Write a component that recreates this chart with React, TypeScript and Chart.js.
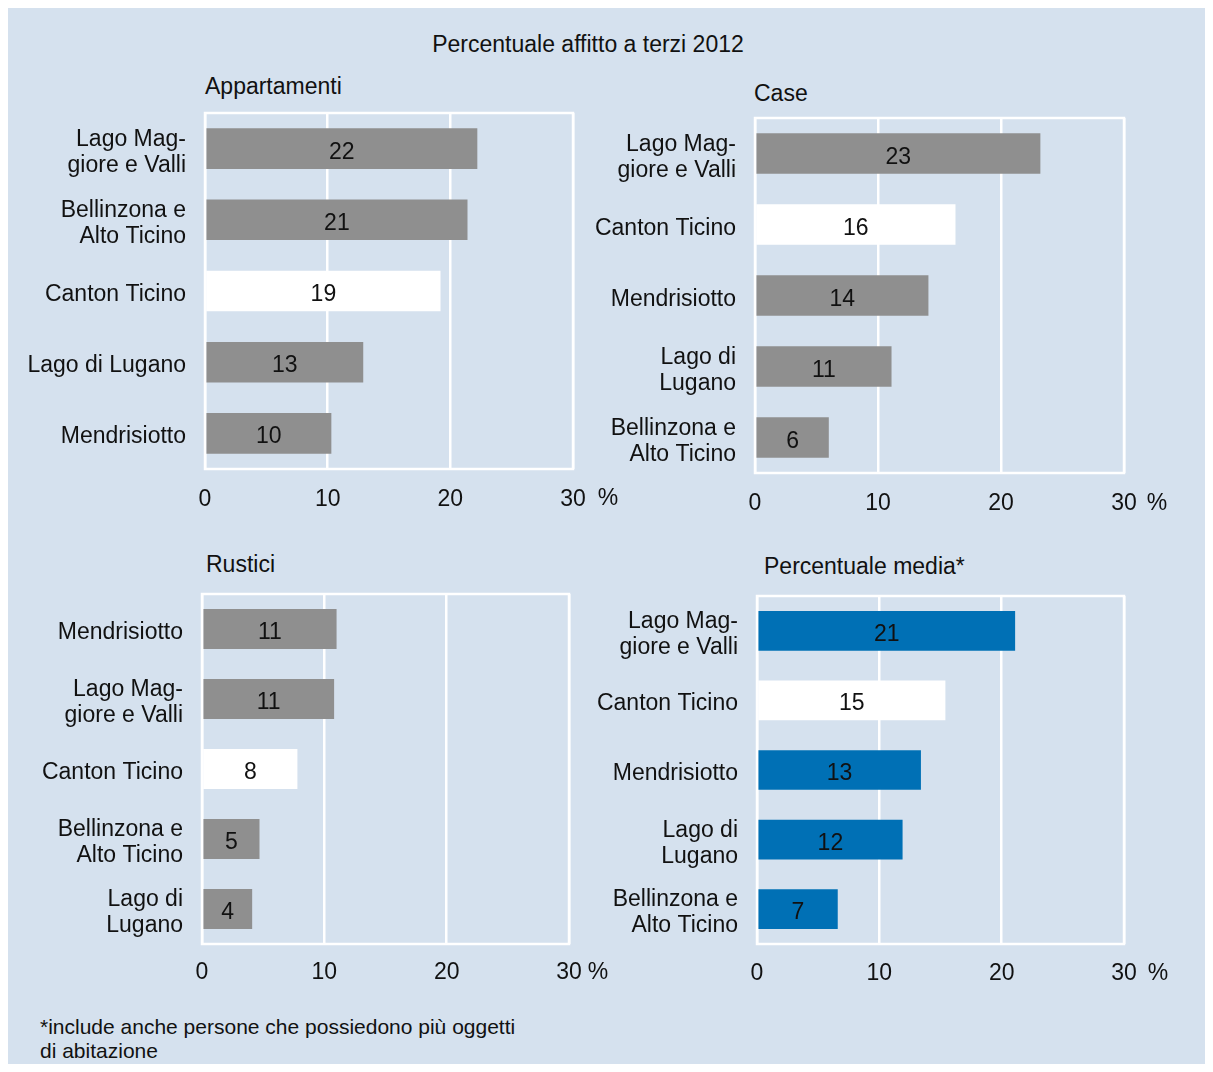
import React, { useEffect, useRef } from 'react';
import { Chart, registerables } from 'chart.js';

Chart.register(...registerables);

const FONT = '"Liberation Sans", Arial, Helvetica, sans-serif';
const BG = '#d5e1ee';
const GRAY = '#8f8f8f';
const BLUE = '#0070b5';
const WHITE = '#ffffff';
const TEXT = '#111111';
const HIGHLIGHT = 'Canton Ticino';

// ---- data ----
const mainTitle = 'Percentuale affitto a terzi 2012';
const footnote = ['*include anche persone che possiedono più oggetti', 'di abitazione'];
const xTickStep = 10;
const xMax = 30;
const unitLabel = '%';

const appTitle = 'Appartamenti';
const appCategories: (string | string[])[] = [
  ['Lago Mag-', 'giore e Valli'],
  ['Bellinzona e', 'Alto Ticino'],
  'Canton Ticino',
  'Lago di Lugano',
  'Mendrisiotto',
];
const appValues = [22.2, 21.4, 19.2, 12.9, 10.3];

const caseTitle = 'Case';
const caseCategories: (string | string[])[] = [
  ['Lago Mag-', 'giore e Valli'],
  'Canton Ticino',
  'Mendrisiotto',
  ['Lago di', 'Lugano'],
  ['Bellinzona e', 'Alto Ticino'],
];
const caseValues = [23.2, 16.3, 14.1, 11.1, 6.0];

const rusticiTitle = 'Rustici';
const rusticiCategories: (string | string[])[] = [
  'Mendrisiotto',
  ['Lago Mag-', 'giore e Valli'],
  'Canton Ticino',
  ['Bellinzona e', 'Alto Ticino'],
  ['Lago di', 'Lugano'],
];
const rusticiValues = [11.0, 10.8, 7.8, 4.7, 4.1];

const mediaTitle = 'Percentuale media*';
const mediaCategories: (string | string[])[] = [
  ['Lago Mag-', 'giore e Valli'],
  'Canton Ticino',
  'Mendrisiotto',
  ['Lago di', 'Lugano'],
  ['Bellinzona e', 'Alto Ticino'],
];
const mediaValues = [21.1, 15.4, 13.4, 11.9, 6.6];

const FS = 23;
const LINE = 26;

// ---- plugins ----
const framePlugin = {
  id: 'frame',
  afterDatasetsDraw(chart: any) {
    const { ctx, chartArea: a } = chart;
    ctx.save();
    ctx.strokeStyle = WHITE;
    ctx.lineWidth = 2.5;
    ctx.strokeRect(a.left, a.top, a.right - a.left, a.bottom - a.top);
    ctx.restore();
  },
};

const valuePlugin = {
  id: 'values',
  afterDatasetsDraw(chart: any) {
    const ctx = chart.ctx;
    const meta = chart.getDatasetMeta(0);
    const data = chart.data.datasets[0].data as number[];
    ctx.save();
    ctx.font = `${FS}px ${FONT}`;
    ctx.fillStyle = TEXT;
    ctx.textAlign = 'center';
    ctx.textBaseline = 'alphabetic';
    meta.data.forEach((bar: any, i: number) => {
      const { x, y, base } = bar.getProps(['x', 'y', 'base'], true);
      ctx.fillText(String(Math.round(data[i])), (x + base) / 2, y + 10);
    });
    ctx.restore();
  },
};

// category labels drawn at the category scale's own tick positions
const categoryLabelPlugin = {
  id: 'catLabels',
  afterDraw(chart: any) {
    const ctx = chart.ctx;
    const scale = chart.scales.y;
    const labels = chart.data.labels as (string | string[])[];
    ctx.save();
    ctx.font = `${FS}px ${FONT}`;
    ctx.fillStyle = TEXT;
    ctx.textAlign = 'right';
    ctx.textBaseline = 'alphabetic';
    const xRight = chart.chartArea.left - 19;
    labels.forEach((lab, i) => {
      const lines = Array.isArray(lab) ? lab : [lab];
      const py = scale.getPixelForTick(i);
      lines.forEach((line, k) => {
        const yy = py + 10 + (k - (lines.length - 1) / 2) * LINE;
        ctx.fillText(line, xRight, yy);
      });
    });
    ctx.restore();
  },
};

type Plot = { l: number; r: number; t: number; b: number };

const YW = 190;
const PT = 6;
const PR = 34;
const XH = 50;

function Panel({
  categories,
  values,
  color,
  plot,
  tickPad,
}: {
  categories: (string | string[])[];
  values: number[];
  color: string;
  plot: Plot;
  tickPad: number;
}) {
  const ref = useRef<HTMLCanvasElement>(null);
  const w = YW + (plot.r - plot.l) + PR;
  const h = PT + (plot.b - plot.t) + XH;
  useEffect(() => {
    const chart = new Chart(ref.current as HTMLCanvasElement, {
      type: 'bar',
      data: {
        labels: categories as any,
        datasets: [
          {
            data: values,
            backgroundColor: categories.map((c) => (c === HIGHLIGHT ? WHITE : color)),
            borderWidth: 0,
            barPercentage: 0.57,
            categoryPercentage: 1,
          },
        ],
      },
      options: {
        indexAxis: 'y',
        animation: false,
        responsive: false,
        devicePixelRatio: 1,
        layout: { padding: { left: 0, top: PT, right: PR, bottom: 0 } },
        plugins: {
          legend: { display: false },
          tooltip: { enabled: false },
          title: { display: false },
        },
        scales: {
          x: {
            min: 0,
            max: xMax,
            grid: { color: WHITE, lineWidth: 2.5, drawTicks: false },
            border: { display: false },
            ticks: {
              stepSize: xTickStep,
              padding: tickPad,
              color: TEXT,
              font: { family: FONT, size: FS },
              maxRotation: 0,
              autoSkip: false,
            },
            afterFit: (s: any) => {
              s.height = XH;
              s.paddingLeft = 0;
              s.paddingRight = 0;
            },
          },
          y: {
            grid: { display: false, drawTicks: false },
            border: { display: false },
            ticks: { display: false },
            afterFit: (s: any) => {
              s.width = YW;
              s.paddingTop = 0;
              s.paddingBottom = 0;
            },
          },
        },
      } as any,
      plugins: [framePlugin, valuePlugin, categoryLabelPlugin],
    });
    return () => chart.destroy();
  }, []);
  return (
    <canvas
      ref={ref}
      width={w}
      height={h}
      style={{ position: 'absolute', left: plot.l - YW - 8, top: plot.t - PT - 8, width: w, height: h }}
    />
  );
}

function Label({ x, cy, text, align = 'left', size = FS }: { x: number; cy: number; text: string; align?: string; size?: number }) {
  const style: any = {
    position: 'absolute',
    top: cy - size / 2 - 8,
    fontSize: size,
    lineHeight: `${size}px`,
    whiteSpace: 'nowrap',
    fontFamily: FONT,
    color: TEXT,
  };
  if (align === 'center') {
    style.left = x - 400 - 8;
    style.width = 800;
    style.textAlign = 'center';
  } else {
    style.left = x - 8;
  }
  return <div style={style}>{text}</div>;
}

export default function App() {
  return (
    <div style={{ position: 'relative', width: 1203, height: 1056, background: BG, fontFamily: FONT }}>
      <Label x={588} cy={44} text={mainTitle} align="center" />
      <Label x={205} cy={86} text={appTitle} />
      <Label x={754} cy={93} text={caseTitle} />
      <Label x={206} cy={564} text={rusticiTitle} />
      <Label x={764} cy={566} text={mediaTitle} />

      <Panel categories={appCategories} values={appValues} color={GRAY} plot={{ l: 205, r: 573, t: 113, b: 469 }} tickPad={17} />
      <Panel categories={caseCategories} values={caseValues} color={GRAY} plot={{ l: 755, r: 1124, t: 118, b: 473 }} tickPad={17} />
      <Panel categories={rusticiCategories} values={rusticiValues} color={GRAY} plot={{ l: 202, r: 569, t: 594, b: 944 }} tickPad={15} />
      <Panel categories={mediaCategories} values={mediaValues} color={BLUE} plot={{ l: 757, r: 1124, t: 596, b: 944 }} tickPad={16} />

      <Label x={608} cy={497} text={unitLabel} align="center" />
      <Label x={1157} cy={502} text={unitLabel} align="center" />
      <Label x={598} cy={971} text={unitLabel} align="center" />
      <Label x={1158} cy={972} text={unitLabel} align="center" />

      <div
        style={{
          position: 'absolute',
          left: 40 - 8,
          top: 1015 - 8,
          fontSize: 21,
          lineHeight: '24px',
          fontFamily: FONT,
          color: TEXT,
          whiteSpace: 'nowrap',
        }}
      >
        {footnote[0]}
        <br />
        {footnote[1]}
      </div>
    </div>
  );
}
